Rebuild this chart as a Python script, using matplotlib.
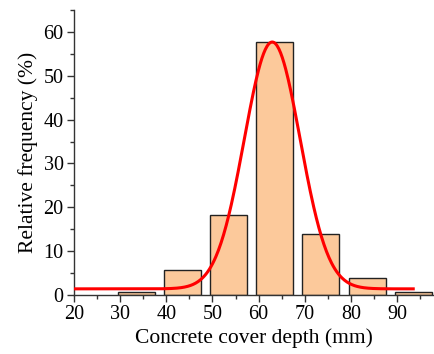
import numpy as np
import matplotlib
matplotlib.use("Agg")
import matplotlib.pyplot as plt
from matplotlib.ticker import MultipleLocator

plt.rcParams['font.family'] = ['Liberation Serif', 'DejaVu Serif']
plt.rcParams['mathtext.fontset'] = 'stix'

# Histogram data (bin left edges, relative frequency %)
bin_left = [29.5, 39.5, 49.5, 59.5, 69.5, 79.5, 89.5]
freq = [0.6, 5.7, 18.2, 57.6, 13.8, 3.8, 0.6]
bar_width = 8.0

# Gaussian fit parameters
y0, amp, xc, sigma = 1.4, 56.3, 62.95, 6.05
fit_x = np.linspace(20, 93.5, 400)
fit_y = y0 + amp * np.exp(-(fit_x - xc) ** 2 / (2 * sigma ** 2))

fig = plt.figure(figsize=(4.34, 3.54), dpi=100)
ax = fig.add_axes([0.1705, 0.1667, 0.8295, 0.805])

ax.bar(bin_left, freq, width=bar_width, align='edge', color='#FCC99B',
       edgecolor='#222222', linewidth=1.0, zorder=2)
ax.plot(fit_x, fit_y, color='#FF0000', linewidth=2.2, zorder=3)

ax.set_xlim(20, 98)
ax.set_ylim(0, 65)
ax.xaxis.set_major_locator(MultipleLocator(10))
ax.xaxis.set_minor_locator(MultipleLocator(5))
ax.yaxis.set_major_locator(MultipleLocator(10))
ax.yaxis.set_minor_locator(MultipleLocator(5))
ax.set_xticks(np.arange(20, 91, 10))

for s in ['top', 'right']:
    ax.spines[s].set_visible(False)
for s in ['left', 'bottom']:
    ax.spines[s].set_linewidth(1.0)
    ax.spines[s].set_color('#333333')

ax.tick_params(which='major', direction='out', length=5, width=1, labelsize=14.5, colors='#333333', labelcolor='black', pad=2.5)
ax.tick_params(which='minor', direction='out', length=3, width=1, colors='#333333')

ax.set_xlabel('Concrete cover depth (mm)', fontsize=15.5, labelpad=3)
ax.set_ylabel('Relative frequency (%)', fontsize=15.5, labelpad=4)

fig.savefig('out.png', dpi=100)
